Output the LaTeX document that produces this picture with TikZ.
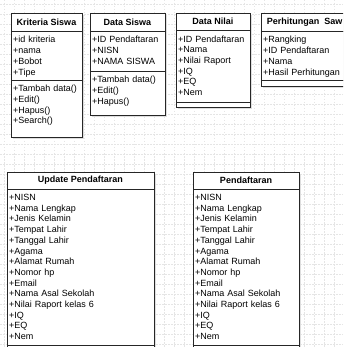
\documentclass[tikz,border=0pt]{standalone}
\usepackage{fontspec}
\setmainfont{Liberation Sans}
\begin{document}
\begin{tikzpicture}[x=1pt,y=-1pt,
  sec/.style={draw=black!85, line width=0.75pt, fill=white, anchor=north west, inner sep=0pt, outer sep=0pt},
  shadowbox/.style={fill=black!13, draw=none, anchor=north west, inner sep=0pt, outer sep=0pt},
  ttl/.style={font=\bfseries\fontsize{9}{10.8}\selectfont, inner sep=0pt},
  txt/.style={anchor=base west, inner sep=0pt, text width=150pt, align=left, font=\fontsize{9}{10.7}\selectfont},
  gridln/.style={draw=black!10, line width=0.4pt, dash pattern=on 1.5pt off 1.5pt}]
\useasboundingbox (0,0) rectangle (343,347);
\clip (0,0) rectangle (343,347);
\fill[white] (0,0) rectangle (343,347);
% background grid
\foreach \g in {4,14,...,344} {
  \draw[gridln] (\g,0) -- (\g,347);
  \draw[gridln] (0,\g) -- (343,\g);
}
% shadows
\node[shadowbox, minimum width=71pt, minimum height=124pt] (ks-s) at (12.5,15) {};
\node[shadowbox, minimum width=75pt, minimum height=102pt] (ds-s) at (91.5,15) {};
\node[shadowbox, minimum width=74pt, minimum height=94pt] (dn-s) at (177.5,15) {};
\node[shadowbox, minimum width=87pt, minimum height=73pt] (ps-s) at (262.5,15) {};
\node[shadowbox, minimum width=147pt, minimum height=190pt] (up-s) at (8.5,174) {};
\node[shadowbox, minimum width=106pt, minimum height=190pt] (pd-s) at (194.5,174) {};
% Kriteria Siswa
\node[sec, minimum width=71pt, minimum height=18pt] (ks-t) at (11,13) {};
\node[ttl] (ks-tl) at (ks-t.center) {Kriteria Siswa};
\node[sec, minimum width=71pt, minimum height=49pt] (ks-a) at (11,31) {};
\node[txt] (ks-al) at (13,43) {+id kriteria\\+nama\\+Bobot\\+Tipe};
\node[sec, minimum width=71pt, minimum height=57pt] (ks-m) at (11,80) {};
\node[txt] (ks-ml) at (13,91.8) {+Tambah data()\\+Edit()\\+Hapus()\\+Search()};
% Data Siswa
\node[sec, minimum width=75pt, minimum height=18pt] (ds-t) at (90,13) {};
\node[ttl] (ds-tl) at (ds-t.center) {Data Siswa};
\node[sec, minimum width=75pt, minimum height=40pt] (ds-a) at (90,31) {};
\node[txt] (ds-al) at (92,43) {+ID Pendaftaran\\+NISN\\+NAMA SISWA};
\node[sec, minimum width=75pt, minimum height=44pt] (ds-m) at (90,71) {};
\node[txt] (ds-ml) at (92,83) {+Tambah data()\\+Edit()\\+Hapus()};
% Data Nilai
\node[sec, minimum width=74pt, minimum height=17pt] (dn-t) at (176,13) {};
\node[ttl] (dn-tl) at (dn-t.center) {Data Nilai};
\node[sec, minimum width=74pt, minimum height=72pt] (dn-a) at (176,30) {};
\node[txt] (dn-al) at (178,42.2) {+ID Pendaftaran\\+Nama\\+Nilai Raport\\+IQ\\+EQ\\+Nem};
\node[sec, minimum width=74pt, minimum height=5pt] (dn-m) at (176,102) {};
% Perhitungan Saw
\node[sec, minimum width=87pt, minimum height=18pt] (ps-t) at (261,13) {};
\node[ttl] (ps-tl) at (ps-t.center) {Perhitungan~ Saw};
\node[sec, minimum width=87pt, minimum height=49pt] (ps-a) at (261,31) {};
\node[txt] (ps-al) at (263,43) {+Rangking\\+ID Pendaftaran\\+Nama\\+Hasil Perhitungan};
\node[sec, minimum width=87pt, minimum height=6pt] (ps-m) at (261,80) {};
% Update Pendaftaran
\node[sec, minimum width=147pt, minimum height=17pt] (up-t) at (7,172) {};
\node[ttl] (up-tl) at (up-t.center) {Update Pendaftaran};
\node[sec, minimum width=147pt, minimum height=156pt] (up-a) at (7,189) {};
\node[txt] (up-al) at (9,200.5) {+NISN\\+Nama Lengkap\\+Jenis Kelamin\\+Tempat Lahir\\+Tanggal Lahir\\+Agama\\+Alamat Rumah\\+Nomor hp\\+Email\\+Nama Asal Sekolah\\+Nilai Raport kelas 6\\+IQ\\+EQ\\+Nem};
\node[sec, minimum width=147pt, minimum height=15pt] (up-m) at (7,345) {};
% Pendaftaran
\node[sec, minimum width=106pt, minimum height=17pt] (pd-t) at (193,172) {};
\node[ttl] (pd-tl) at (pd-t.center) {Pendaftaran};
\node[sec, minimum width=106pt, minimum height=156pt] (pd-a) at (193,189) {};
\node[txt] (pd-al) at (195,200.5) {+NISN\\+Nama Lengkap\\+Jenis Kelamin\\+Tempat Lahir\\+Tanggal Lahir\\+Agama\\+Alamat Rumah\\+Nomor hp\\+Email\\+Nama Asal Sekolah\\+Nilai Raport kelas 6\\+IQ\\+EQ\\+Nem};
\node[sec, minimum width=106pt, minimum height=15pt] (pd-m) at (193,345) {};
\end{tikzpicture}
\end{document}
